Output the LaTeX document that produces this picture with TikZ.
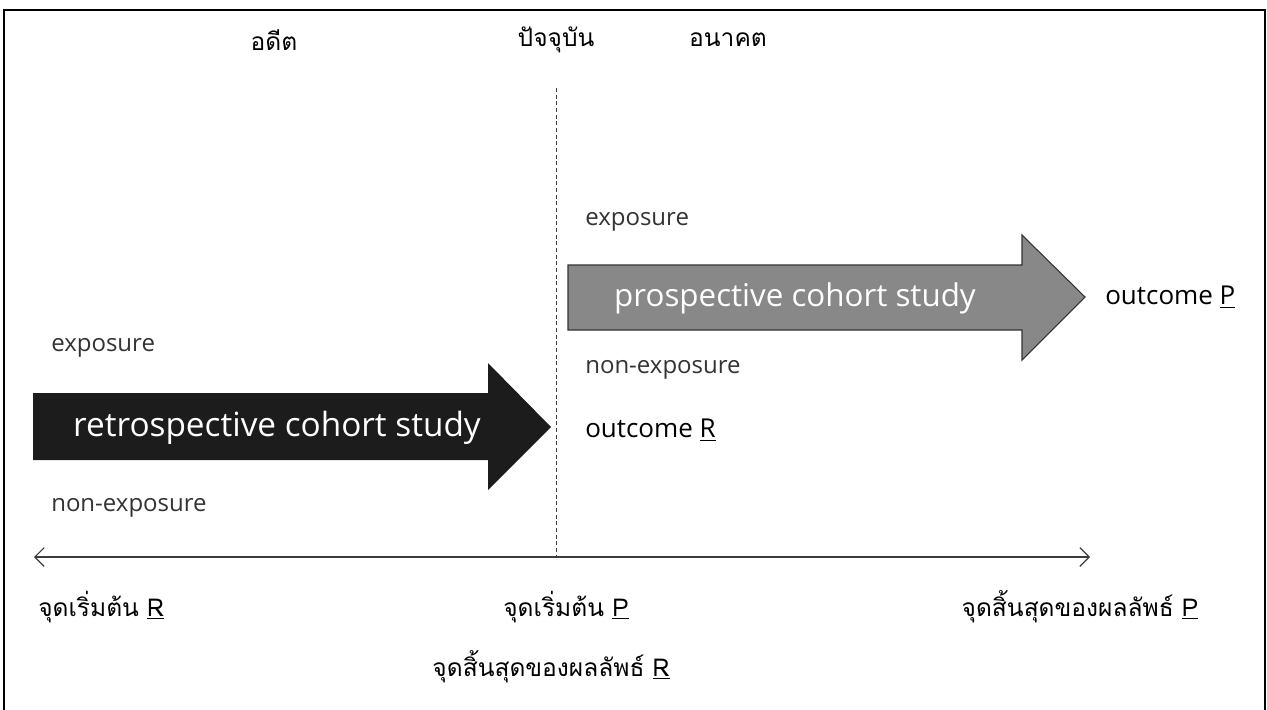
\documentclass[tikz,border=0pt]{standalone}
\usepackage{fontspec}
\setmainfont{Open Sans}
\newfontfamily\thai[Script=Thai]{Loma}
\usetikzlibrary{arrows.meta}
\definecolor{arrowblack}{HTML}{1C1C1C}
\definecolor{arrowgray}{HTML}{888888}
\definecolor{edgegray}{HTML}{333333}
\definecolor{axisgray}{HTML}{3C3C3C}
\tikzset{
  lbl/.style={anchor=west, inner sep=0pt, font=\fontsize{18}{21}\selectfont\color{black!80}},
  outc/.style={anchor=west, inner sep=0pt, font=\fontsize{19.5}{23}\selectfont},
  thlbl/.style={inner sep=0pt, font=\thai\fontsize{18.4}{22}\selectfont},
  bigR/.style={inner sep=0pt, text=white, font=\fontsize{25}{29}\selectfont},
  bigP/.style={inner sep=0pt, text=white, font=\fontsize{23.5}{28}\selectfont},
}
\begin{document}
\begin{tikzpicture}[x=0.75pt,y=-0.75pt]
\useasboundingbox (0,0) rectangle (1267,710);
% frame
\draw[line width=1.6pt] (4,712) -- (4,10) -- (1265,10) -- (1265,712);
\draw[line width=1.4pt] (4,10) -- (1265,10);
% header labels
\node[thlbl] (past) at (274,40) {อดีต};
\node[thlbl] (now) at (556,40) {ปัจจุบัน};
\node[thlbl] (future) at (728,40) {อนาคต};
% dashed present line
\coordinate (dtop) at (556,88);
\coordinate (dbot) at (556,557);
\draw[dashed, dash pattern=on 3pt off 2pt, line width=0.5pt, black!75] (dtop) -- (dbot);
% time axis
\coordinate (aL) at (34,557);
\coordinate (aR) at (1090,557);
\draw[line width=1.8pt, axisgray, {Straight Barb[length=7pt,width=14pt,line width=0.9pt]}-{Straight Barb[length=7pt,width=14pt,line width=0.9pt]}] (aL) -- (aR);
% retrospective arrow
\fill[arrowblack] (33,393) -- (488,393) -- (488,363) -- (551,427) -- (488,490) -- (488,460) -- (33,460) -- cycle;
\node[bigR] (retro) at (277,428) {retrospective cohort study};
% prospective arrow
\draw[fill=arrowgray, draw=edgegray, line width=0.8pt] (568,265) -- (1022,265) -- (1022,235) -- (1085,297) -- (1022,360) -- (1022,330) -- (568,330) -- cycle;
\node[bigP] (pros) at (795,298) {prospective cohort study};
% side labels
\node[lbl] (expR) at (585,222) {exposure};
\node[lbl] (nexpR) at (585,370) {non-exposure};
\node[outc] (outR) at (585,430) {outcome \underline{R}};
\node[outc] (outP) at (1105,297) {outcome \underline{P}};
\node[lbl] (expL) at (51,348) {exposure};
\node[lbl] (nexpL) at (51,508) {non-exposure};
% bottom labels
\node[thlbl, anchor=west] (startR) at (38,607) {จุดเริ่มต้น \underline{R}};
\node[thlbl] (startP) at (566,607) {จุดเริ่มต้น \underline{P}};
\node[thlbl] (endP) at (1080,607) {จุดสิ้นสุดของผลลัพธ์ \underline{P}};
\node[thlbl] (endR) at (551,667) {จุดสิ้นสุดของผลลัพธ์ \underline{R}};
\end{tikzpicture}
\end{document}
